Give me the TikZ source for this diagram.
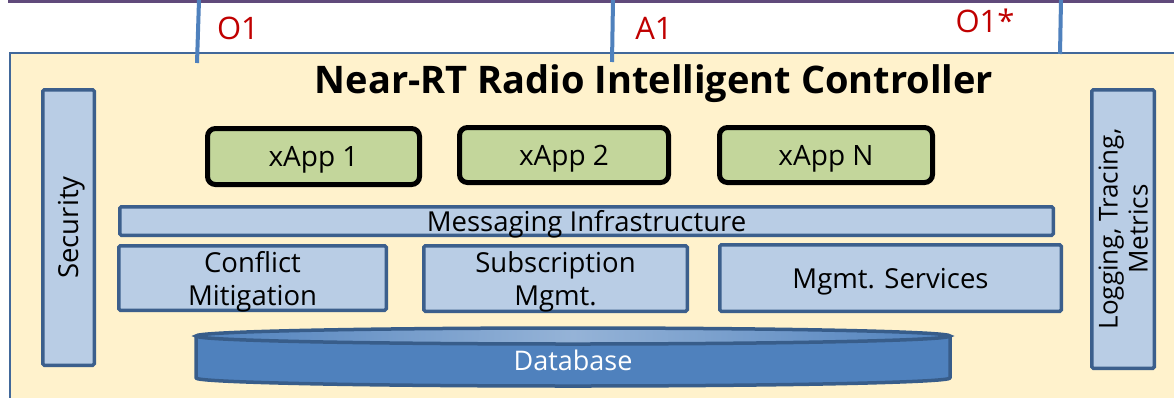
\documentclass[tikz,border=0pt]{standalone}
\usepackage{fontspec}
\setmainfont{Open Sans}
\definecolor{panelfill}{HTML}{FFF2CC}
\definecolor{panelline}{HTML}{41689A}
\definecolor{boxfill}{HTML}{B9CDE5}
\definecolor{boxline}{HTML}{3C5F8C}
\definecolor{appfill}{HTML}{C3D69B}
\definecolor{ifline}{HTML}{4F81BD}
\definecolor{iflabel}{HTML}{C00000}
\definecolor{topline}{HTML}{604A7B}
\definecolor{dbfill}{HTML}{4F81BD}
\definecolor{dbline}{HTML}{385D8A}
\definecolor{dbhigh}{HTML}{95B3D7}
\tikzset{
  blockbox/.style={draw=boxline, fill=boxfill, line width=3.5pt, rounded corners=1.5pt,
    inner sep=0pt, align=center, text depth=0pt, font=\fontsize{27.5}{33}\selectfont},
  appbox/.style={draw=black, fill=appfill, line width=5pt, rounded corners=8pt,
    inner sep=0pt, text depth=0pt, font=\fontsize{28}{32}\selectfont},
  ifwire/.style={draw=ifline, line width=4pt},
  iftext/.style={text=iflabel, font=\fontsize{31}{34}\selectfont, inner sep=0pt},
}
\begin{document}
\begin{tikzpicture}[x=1pt,y=-1pt]
\useasboundingbox (0,0) rectangle (1174,397);
\fill[white] (0,0) rectangle (1174,397);

% controller panel and the bar above it
\draw[draw=panelline, fill=panelfill, line width=2pt] (10,53) rectangle (1190,410);
\draw[topline, line width=3pt] (8,1) -- (1180,1);

% title
\node[anchor=base, inner sep=0pt, font=\fontsize{38}{42}\selectfont\bfseries]
  (title) at (654,93) {Near-RT Radio Intelligent Controller};

% interfaces
\coordinate (o1top) at (199,0);   \coordinate (o1bot) at (197,63);
\coordinate (a1top) at (613,0);   \coordinate (a1bot) at (612,62);
\coordinate (o1stop) at (1061,0); \coordinate (o1sbot) at (1060,54);
\draw[ifwire] (o1top) -- (o1bot);
\draw[ifwire] (a1top) -- (a1bot);
\draw[ifwire] (o1stop) -- (o1sbot);
\node[iftext] (o1lbl) at (238,28) {O1};
\node[iftext] (a1lbl) at (654,28) {A1};
\node[iftext] (o1slbl) at (985,21) {O1*};

% side services
\node[blockbox, rotate=90, minimum width=275.5pt, minimum height=51.5pt]
  (security) at (68.5,227.5) {Security};
\node[blockbox, rotate=90, minimum width=278.5pt, minimum height=62.5pt,
  font=\fontsize{26}{30}\selectfont]
  (logging) at (1123,229) {Logging, Tracing,\\Metrics};

% xApps
\node[appbox, minimum width=212pt, minimum height=56pt] (xapp1) at (313.5,156.5) {xApp 1};
\node[appbox, minimum width=209pt, minimum height=55pt] (xapp2) at (564,155) {xApp 2};
\node[appbox, minimum width=213pt, minimum height=55pt] (xappn) at (826,155) {xApp N};

% platform blocks
\node[blockbox, minimum width=933.5pt, minimum height=28.5pt] (msg) at (586.5,221) {Messaging Infrastructure};
\node[blockbox, minimum width=267.5pt, minimum height=64.5pt] (conflict) at (252.5,278) {Conflict\\Mitigation};
\node[blockbox, minimum width=263.5pt, minimum height=65.5pt] (subs) at (555.5,278.5) {Subscription\\Mgmt.};
\node[blockbox, minimum width=341.5pt, minimum height=66.5pt] (mgmt) at (890.5,278) {Mgmt. Services};

% database cylinder
\fill[dbfill] (196,336) -- (196,378) arc[start angle=180, end angle=360, x radius=377, y radius=-8]
  -- (950,336) -- cycle;
\draw[dbline, line width=3.5pt, line join=round] (196,336) -- (196,378)
  arc[start angle=180, end angle=360, x radius=377, y radius=-8] -- (950,336);
\shade[left color=dbfill, right color=dbfill, middle color=dbhigh]
  (573,336) ellipse[x radius=377, y radius=8];
\draw[dbline, line width=3.5pt] (573,336) ellipse[x radius=377, y radius=8];
\node[text=white, inner sep=0pt, font=\fontsize{27}{30}\selectfont] (db) at (573,360) {Database};
\end{tikzpicture}
\end{document}
